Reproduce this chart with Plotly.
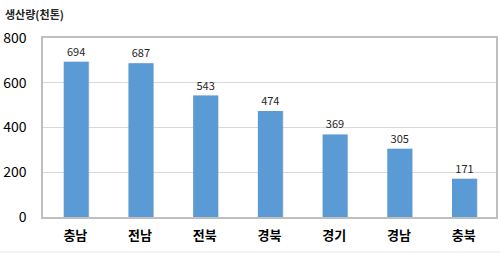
import plotly.graph_objects as go

categories = ["충남", "전남", "전북", "경북", "경기", "경남", "충북"]
values = [694, 687, 543, 474, 369, 305, 171]
tick_vals = [0, 200, 400, 600, 800]

FONT = "Noto Sans CJK KR"

fig = go.Figure()
# subtle shadow behind bars
fig.add_trace(go.Bar(
    x=categories, y=values, width=0.385, offset=-0.17,
    marker=dict(color="rgba(150,150,150,0.45)", line=dict(width=0)),
    hoverinfo="skip", showlegend=False,
))
fig.add_trace(go.Bar(
    x=categories, y=values, width=0.385, offset=-0.18,
    marker=dict(color="#5B9BD5", line=dict(width=0)),
    text=[str(v) for v in values], textposition="outside",
    textfont=dict(family=FONT, size=11, color="#262626"),
    cliponaxis=False, showlegend=False,
))

fig.update_layout(
    width=500, height=254,
    margin=dict(l=43, r=2, t=38, b=37),
    paper_bgcolor="white", plot_bgcolor="white",
    barmode="overlay", bargap=0.6,
    font=dict(family=FONT, color="black"),
    xaxis=dict(
        showline=True, linecolor="#BFBFBF", linewidth=1.5, mirror=True,
        tickfont=dict(family=FONT, size=13, color="black", weight="bold"),
        ticks="", showgrid=False, ticklabelstandoff=6,
    ),
    yaxis=dict(
        range=[0, 800], tickvals=tick_vals,
        showline=True, linecolor="#BFBFBF", linewidth=1.5, mirror=True,
        gridcolor="#D9D9D9", gridwidth=1,
        tickfont=dict(family=FONT, size=14, color="black"),
        ticks="", ticklen=0, zeroline=False, ticklabelstandoff=12,
    ),
    annotations=[dict(
        text="생산량(천톤)", x=0, y=1, xref="paper", yref="paper",
        xanchor="left", yanchor="top", showarrow=False,
        xshift=-40, yshift=34,
        font=dict(family=FONT, size=11, color="#262626", weight="bold"),
    )],
    shapes=[dict(
        type="line", xref="paper", yref="paper",
        x0=-0.1, x1=1.01, y0=-0.195, y1=-0.195,
        line=dict(color="#E6E6E6", width=1),
    )],
)

fig.write_html("out.html")
